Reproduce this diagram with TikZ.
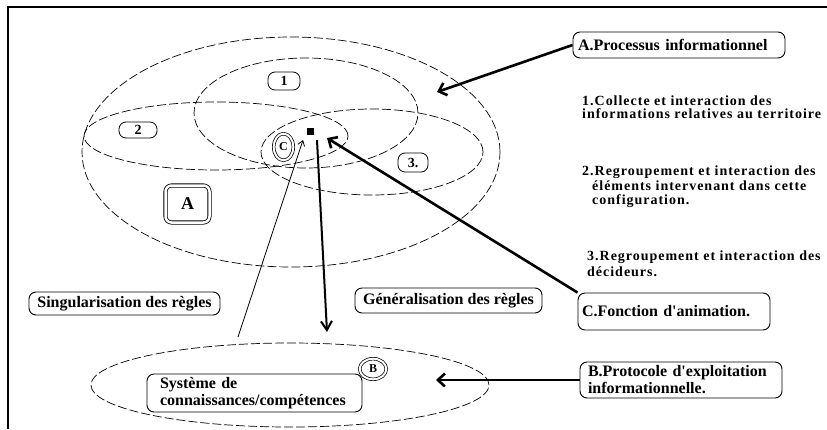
\documentclass[tikz,border=0pt]{standalone}
\usepackage{fontspec}
\setmainfont{Liberation Serif}[Ligatures=TeXOff]
\usetikzlibrary{arrows.meta,shapes.geometric}
\begin{document}
\begin{tikzpicture}[x=1pt,y=-1pt,
  dashell/.style={draw, dash pattern=on 9pt off 3pt, line width=0.7pt},
  bfont/.style={font=\fontsize{16}{17}\selectfont\bfseries},
  rbox/.style={draw, rounded corners=7pt, line width=0.9pt, bfont, inner ysep=0pt},
  lbox/.style={draw, rounded corners=7pt, line width=0.8pt, font=\fontsize{14}{14}\selectfont\bfseries, inner sep=0pt},
  txt/.style={font=\fontsize{14}{14}\selectfont\bfseries\addfontfeature{LetterSpace=7}, anchor=west, inner sep=0pt},
  thickarr/.style={line width=2.6pt, -{Straight Barb[length=7pt,width=13pt]}},
  thinarr/.style={line width=0.8pt, -{Straight Barb[length=5pt,width=7pt]}},
  midarr/.style={line width=2pt, -{Straight Barb[length=9pt,width=11pt]}}
]
\useasboundingbox (0,0) rectangle (827,429);
% frame
\draw[line width=2pt] (8,429) -- (8,7) -- (827,7);

% ellipses
\draw[dashell] (291,152) ellipse [x radius=209pt, y radius=115pt];
\draw[dashell] (306,113) ellipse [x radius=112pt, y radius=55pt];
\draw[dashell] (216,136) ellipse [x radius=132pt, y radius=34pt];
\draw[dashell] (372,152) ellipse [x radius=111pt, y radius=43pt];
\draw[dashell] (290,385) ellipse [x radius=199pt, y radius=42pt];

% small labels
\node[lbox, minimum width=32pt, minimum height=18pt] (l1) at (284,81) {1};
\node[lbox, minimum width=38pt, minimum height=16pt] (l2) at (138,130) {2};
\node[lbox, minimum width=30pt, minimum height=19pt] (l3) at (413,162.5) {3.};
\node[draw, double, double distance=2.5pt, line width=0.8pt, rounded corners=6pt,
      minimum width=44pt, minimum height=37pt, inner sep=0pt,
      font=\fontsize{18}{18}\selectfont\bfseries] (lA) at (187.5,204) {A};
\node[ellipse, draw, double, double distance=2pt, line width=0.7pt,
      minimum width=26.6pt, minimum height=20.6pt, inner sep=0pt,
      font=\fontsize{12}{12}\selectfont\bfseries] (lB) at (373,369) {B};
\node[ellipse, draw, double, double distance=2pt, line width=0.7pt,
      minimum width=19.6pt, minimum height=26.6pt, inner sep=0pt,
      font=\fontsize{12}{12}\selectfont\bfseries] (lC) at (283.5,147) {C};
\node[fill=black, minimum size=7pt, inner sep=0pt] (sq) at (310,131) {};

% boxes
\node[rbox, text width=202pt, inner xsep=5pt, align=left, minimum height=26pt] (procA) at (679,45) {A.Processus informationnel};
\node[rbox, text width=184pt, inner xsep=4pt, align=left, minimum height=37pt] (anim) at (674,311.5) {C.Fonction d'animation.};
\node[rbox, text width=186pt, inner xsep=8pt, align=left, minimum height=36pt] (proto) at (681,380) {B.Protocole d'exploitation\\informationnelle.};
\node[rbox, minimum width=191pt, minimum height=23pt, inner xsep=0pt] (sing) at (124.5,303.5) {Singularisation des règles};
\node[rbox, minimum width=187pt, minimum height=25pt, inner xsep=0pt] (gen) at (448.5,300.5) {Généralisation des règles};
\node[rbox, text width=189pt, inner xsep=13pt, align=left, minimum height=38pt] (sys) at (254.5,393) {Système de\\connaissances/compétences};

% right-column texts
\node[txt] (t1a) at (582,101) {1.Collecte et interaction des};
\node[txt] (t1b) at (582,114) {informations relatives au territoire};
\node[txt] (t2a) at (582,172) {2.Regroupement et interaction des};
\node[txt] (t2b) at (592,186) {éléments intervenant dans cette};
\node[txt] (t2c) at (592,201.5) {configuration.};
\node[txt] (t3a) at (587,257) {3.Regroupement et interaction des};
\node[txt] (t3b) at (587,272) {décideurs.};

% arrow end points
\coordinate (tipA) at (437,92);
\coordinate (tipC) at (327,138);
\coordinate (tipB) at (436,380);
\coordinate (thinS) at (238,337);
\coordinate (thinE) at (303,140);
\coordinate (vS) at (317,140);
\coordinate (vE) at (327,332);

% arrows
\draw[thickarr] (procA.west) -- (tipA);
\draw[thickarr] (anim.north west) -- (tipC);
\draw[thickarr] (proto.west) -- (tipB);
\draw[thinarr] (thinS) -- (thinE);
\draw[midarr] (vS) -- (vE);
\end{tikzpicture}
\end{document}
